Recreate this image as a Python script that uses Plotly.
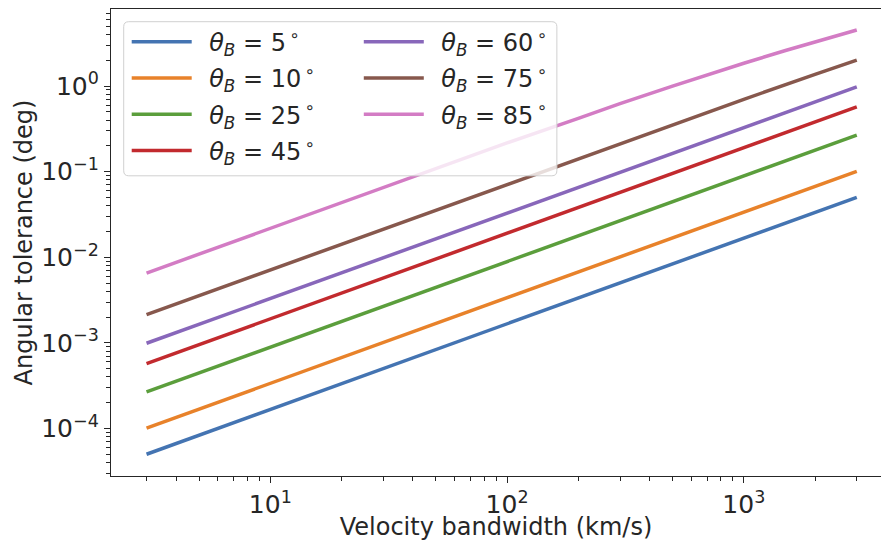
import plotly.graph_objects as go

# ---- data ----
velocity = [3, 10, 30, 100, 300, 600, 1000, 2000, 3000]
velocity_85 = [3, 10, 30, 100, 200, 300, 500, 700, 1000, 1500, 2000, 2500, 3000]
angles = [5, 10, 25, 45, 60, 75, 85]
tol_5 = [5.0e-5, 1.67e-4, 5.0e-4, 1.67e-3, 5.0e-3, 1.0e-2, 1.67e-2, 3.34e-2, 5.02e-2]
tol_10 = [1.01e-4, 3.37e-4, 1.01e-3, 3.37e-3, 1.01e-2, 2.02e-2, 3.37e-2, 6.73e-2, 0.101]
tol_25 = [2.67e-4, 8.9e-4, 2.67e-3, 8.9e-3, 2.67e-2, 5.34e-2, 8.9e-2, 0.178, 0.267]
tol_45 = [5.73e-4, 1.91e-3, 5.73e-3, 1.91e-2, 5.73e-2, 0.1145, 0.191, 0.381, 0.571]
tol_60 = [9.9e-4, 3.3e-3, 9.9e-3, 3.3e-2, 9.9e-2, 0.198, 0.329, 0.656, 0.978]
tol_75 = [2.14e-3, 7.13e-3, 2.14e-2, 7.12e-2, 0.213, 0.424, 0.70, 1.37, 2.01]
tol_85 = [6.54e-3, 2.18e-2, 6.53e-2, 0.217, 0.42, 0.624, 0.996, 1.352, 1.846, 2.60, 3.29, 3.93, 4.52]
series = [tol_5, tol_10, tol_25, tol_45, tol_60, tol_75, tol_85]
xs = [velocity] * 6 + [velocity_85]
colors = ["#4474b2", "#e8822a", "#5b9e3c", "#c22a2e", "#8867ba", "#87584d", "#d37cc4"]

y_tickvals = [1e-4, 1e-3, 1e-2, 1e-1, 1e0]
y_ticktext = ["10<sup>−4</sup>", "10<sup>−3</sup>", "10<sup>−2</sup>", "10<sup>−1</sup>", "10<sup>0</sup>"]
x_tickvals = [10, 100, 1000]
x_ticktext = ["10<sup>1</sup>", "10<sup>2</sup>", "10<sup>3</sup>"]

y_minor = [m * 10.0 ** k for k in range(-5, 1) for m in range(2, 10)]
x_minor = [m * 10.0 ** k for k in range(0, 4) for m in range(2, 10)]

TXT = "#262626"
FONT = "DejaVu Sans"

fig = go.Figure()
for i, (a, xv, ys, c) in enumerate(zip(angles, xs, series, colors)):
    fig.add_trace(go.Scatter(
        x=xv, y=ys, mode="lines",
        line=dict(color=c, width=3.5),
        name=f"&nbsp;&#8201;<i>θ</i><sub><i>B</i></sub> = {a}<sup>&#8201;∘</sup>",
        legend="legend" if i < 4 else "legend2",
        legendgroup=f"g{i}",
    ))

# plot area pixel geometry
L, R, T, B = 111.3, 881.0, 9.3, 476.0
W, H = 881, 541

def px(xp):
    return (xp - L) / (R - L)

def py(yp):
    return (B - yp) / (B - T)

legend_common = dict(
    bgcolor="rgba(0,0,0,0)", borderwidth=0,
    font=dict(family=FONT, size=24, color=TXT),
    tracegroupgap=2, itemwidth=60,
    xanchor="left", yanchor="top",
)

# rounded translucent legend frame
x0, x1, y0, y1 = px(124), px(557), py(176), py(22)
r = 5
rx = r / (R - L)
ry = r / (B - T)
path = (f"M{x0+rx},{y0} L{x1-rx},{y0} Q{x1},{y0} {x1},{y0+ry} "
        f"L{x1},{y1-ry} Q{x1},{y1} {x1-rx},{y1} L{x0+rx},{y1} Q{x0},{y1} {x0},{y1-ry} "
        f"L{x0},{y0+ry} Q{x0},{y0} {x0+rx},{y0} Z")
fig.add_shape(type="path", path=path, xref="paper", yref="paper",
              fillcolor="rgba(255,255,255,0.8)", line=dict(color="#d0d0d0", width=1),
              layer="above")

fig.update_layout(
    width=W, height=H,
    margin=dict(l=L, r=W - R, t=T, b=H - B),
    paper_bgcolor="white", plot_bgcolor="white",
    font=dict(family=FONT, color=TXT),
    showlegend=True,
    legend=dict(x=px(127), y=py(20), **legend_common),
    legend2=dict(x=px(359), y=py(20), **legend_common),
)

axis_common = dict(
    type="log", showgrid=False, zeroline=False,
    showline=True, linecolor=TXT, linewidth=1.3,
    ticks="outside", ticklen=6, tickwidth=1.3, tickcolor=TXT,
    tickfont=dict(family=FONT, size=25, color=TXT),
)

fig.update_xaxes(
    range=[0.327, 3.5795], tickmode="array", tickvals=x_tickvals, ticktext=x_ticktext,
    mirror=True,
    minor=dict(tickmode="array", tickvals=x_minor, ticks="outside", ticklen=3.5,
               tickwidth=1, tickcolor=TXT, showgrid=False),
    title=dict(text="Velocity bandwidth (km/s)", font=dict(family=FONT, size=24, color=TXT), standoff=5),
    **axis_common,
)
fig.update_yaxes(
    range=[-4.555, 0.90], tickmode="array", tickvals=y_tickvals, ticktext=y_ticktext,
    minor=dict(tickmode="array", tickvals=y_minor, ticks="outside", ticklen=3.5,
               tickwidth=1, tickcolor=TXT, showgrid=False),
    title=dict(text="Angular tolerance (deg)", font=dict(family=FONT, size=24, color=TXT), standoff=1),
    **axis_common,
)

fig.write_html("out.html")
